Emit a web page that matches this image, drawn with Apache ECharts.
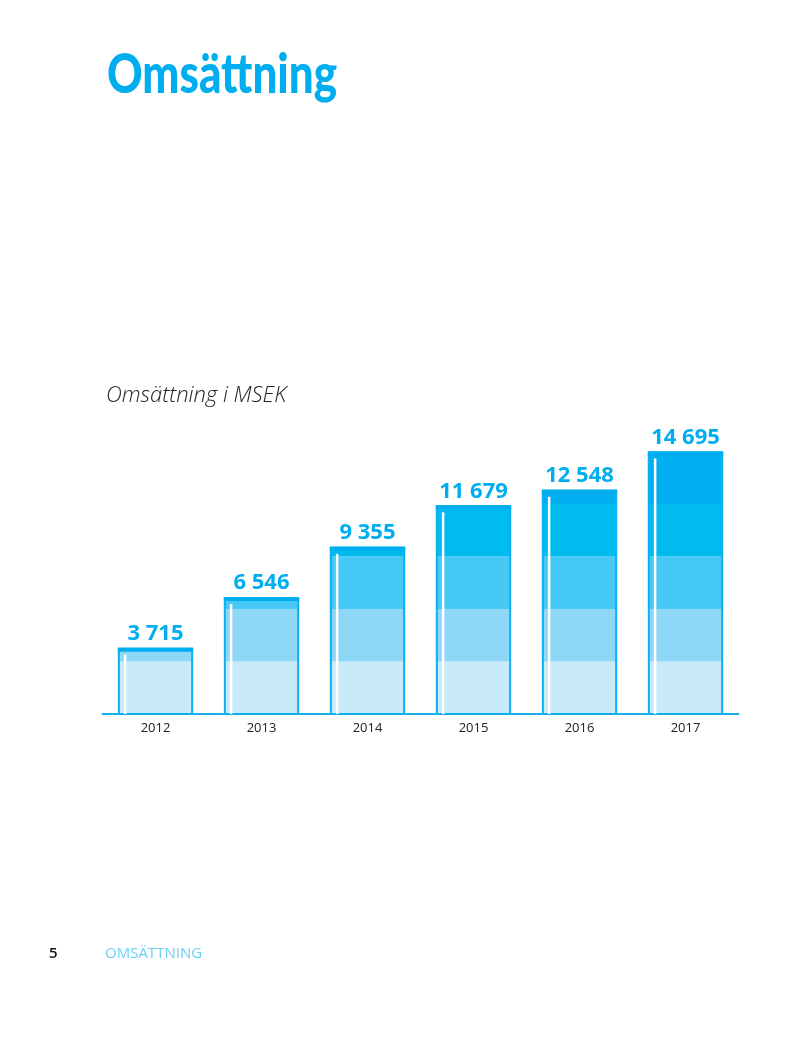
<!DOCTYPE html>
<html>
<head>
<meta charset="utf-8">
<script src="https://cdn.jsdelivr.net/npm/echarts@6/dist/echarts.min.js"></script>
<style>
html,body{margin:0;padding:0;background:#fff;}
#c{width:800px;height:1052px;}
</style>
</head>
<body>
<div id="c"></div>
<script>
const years = ['2012', '2013', '2014', '2015', '2016', '2017'];
const revenue = [3715, 6546, 9355, 11679, 12548, 14695];
const bandColors = ['#c8eaf9', '#8fd7f6', '#47c9f6', '#00bbef', '#00afef'];
const titleText = 'Omsättning';
const subtitleText = 'Omsättning i MSEK';
const pageNumber = '5';
const footerText = 'OMSÄTTNING';

const bandStep = Math.max.apply(null, revenue) / bandColors.length;
function fmt(v) { return String(v).replace(/\B(?=(\d{3})+(?!\d))/g, ' '); }

const chart = echarts.init(document.getElementById('c'));
chart.setOption({
  backgroundColor: '#fff',
  animation: false,
  graphic: [
    { type: 'text', x: 107, y: 48, scaleX: 0.8, style: { text: titleText, fill: '#00aeef', font: '900 55px Lato', textVerticalAlign: 'top' } },
    { type: 'text', x: 106, y: 385, style: { text: subtitleText, fill: '#222', font: 'italic 300 22px "Open Sans"', textVerticalAlign: 'top' } },
    { type: 'text', x: 49, y: 946, style: { text: pageNumber, fill: '#111', font: '600 15px "Open Sans"', textVerticalAlign: 'top' } },
    { type: 'text', x: 105, y: 946, style: { text: footerText, fill: '#6ccff5', font: '400 15px "Open Sans"', textVerticalAlign: 'top' } }
  ],
  grid: { left: 102.5, width: 636, top: 446, bottom: 338, containLabel: false },
  xAxis: {
    type: 'category', data: years,
    axisLine: { show: true, lineStyle: { color: '#16b0ef', width: 2 } },
    axisTick: { show: false },
    axisLabel: { color: '#222', fontSize: 13, fontFamily: 'Open Sans', margin: 8 },
    splitLine: { show: false }
  },
  yAxis: { type: 'value', min: 0, max: 15000, show: false, splitLine: { show: false } },
  series: [{
    type: 'custom',
    clip: false,
    data: revenue.map((v, i) => [i, v]),
    renderItem: function (params, api) {
      const idx = api.value(0), val = api.value(1);
      const base = api.coord([idx, 0]);
      const top = api.coord([idx, val]);
      const bw = api.size([1, 0])[0] * 0.71;
      const x0 = base[0] - bw / 2;
      const children = [];
      for (let i = 0; i < bandColors.length; i++) {
        const lo = i * bandStep;
        const hi = Math.min((i + 1) * bandStep, val);
        if (hi <= lo) break;
        const yHi = api.coord([idx, hi])[1];
        const yLo = api.coord([idx, lo])[1];
        children.push({ type: 'rect', shape: { x: x0, y: yHi, width: bw, height: yLo - yHi }, style: { fill: bandColors[i] } });
      }
      children.push({ type: 'rect', shape: { x: x0 + 1, y: top[1] + 1, width: bw - 2, height: base[1] - top[1] - 1 }, style: { fill: null, stroke: '#0fb0ef', lineWidth: 2 } });
      children.push({ type: 'rect', shape: { x: x0, y: top[1], width: bw, height: 4 }, style: { fill: '#00aeef' } });
      children.push({ type: 'rect', shape: { x: x0 + 6, y: top[1] + 7, width: 2.5, height: base[1] - top[1] - 7 }, style: { fill: '#ffffff' } });
      children.push({ type: 'text', style: { text: fmt(val), x: base[0], y: top[1] - 3, textAlign: 'center', textVerticalAlign: 'bottom', fill: '#00aeef', font: '700 22px "Open Sans"' } });
      return { type: 'group', children: children };
    }
  }]
});
</script>
</body>
</html>
